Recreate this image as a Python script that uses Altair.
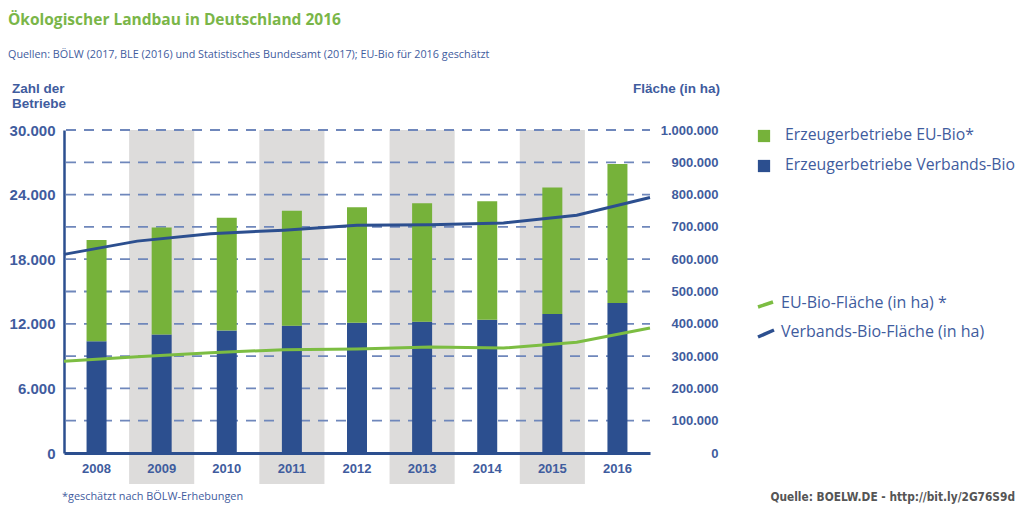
import altair as alt
import pandas as pd

years = [2008, 2009, 2010, 2011, 2012, 2013, 2014, 2015, 2016]
# Erzeugerbetriebe (Anzahl)
verbands_betriebe = [10390, 11010, 11380, 11820, 12100, 12190, 12380, 12900, 13930]
eu_bio_betriebe = [9400, 9930, 10460, 10670, 10730, 11010, 11010, 11770, 12910]
# Flächen (ha)
verbands_flaeche = [615000, 656000, 679000, 690000, 705000, 707000, 712000, 736000, 791000]
eu_bio_flaeche = [284000, 298000, 310000, 320000, 322000, 328000, 325000, 343000, 387000]

left_ticks = [0, 6000, 12000, 18000, 24000, 30000]
right_ticks = [0, 100000, 200000, 300000, 400000, 500000, 600000, 700000, 800000, 900000, 1000000]
grid_values = [3000, 6000, 9000, 12000, 15000, 18000, 21000, 24000, 27000, 30000]
shaded_years = [2009, 2011, 2013, 2015]

title_text = "Ökologischer Landbau in Deutschland 2016"
subtitle_text = "Quellen: BÖLW (2017, BLE (2016) und Statistisches Bundesamt (2017); EU-Bio für 2016 geschätzt"
left_title = ["Zahl der", "Betriebe"]
right_title = "Fläche (in ha)"
legend_bars = ["Erzeugerbetriebe EU-Bio*", "Erzeugerbetriebe Verbands-Bio"]
legend_lines = ["EU-Bio-Fläche (in ha) *", "Verbands-Bio-Fläche (in ha)"]
footnote = "*geschätzt nach BÖLW-Erhebungen"
source = "Quelle: BOELW.DE  - http://bit.ly/2G76S9d"

GREEN = "#76b23a"
BLUE = "#2c4f8f"
GRAY = "#dddcdb"
TEXT = "#3f5c9e"
GRID = "#6f87bb"

W, H = 586, 323
AXFONT = "Liberation Sans"
TXFONT = "Open Sans"

label_expr = "replace(format(datum.value, ','), regexp(',', 'g'), '.')"

bars_df = pd.DataFrame(
    [{"year": y, "series": "Verbands", "ord": 0, "value": v} for y, v in zip(years, verbands_betriebe)]
    + [{"year": y, "series": "EU", "ord": 1, "value": v} for y, v in zip(years, eu_bio_betriebe)]
)
lines_df = pd.DataFrame(
    [{"year": y, "series": "Verbands", "value": v} for y, v in zip(years, verbands_flaeche)]
    + [{"year": y, "series": "EU", "value": v} for y, v in zip(years, eu_bio_flaeche)]
)

xband = alt.Scale(domain=years, paddingInner=0, paddingOuter=0)

shade = alt.Chart(pd.DataFrame({"year": shaded_years})).mark_rect(color=GRAY).encode(
    x=alt.X("year:O", scale=xband, axis=None),
    y=alt.value(0),
    y2=alt.value(H + 31),
)

grid = alt.Chart(pd.DataFrame({"v": grid_values})).mark_rule(
    color=GRID, strokeWidth=1.8, strokeDash=[10, 8]
).encode(
    y=alt.Y("v:Q", scale=alt.Scale(domain=[0, 30000]), axis=None),
    x=alt.value(2),
    x2=alt.value(W),
)

bars = alt.Chart(bars_df).mark_bar(width=20).encode(
    x=alt.X(
        "year:O",
        scale=xband,
        axis=alt.Axis(
            title=None, labelAngle=0, ticks=False, tickSize=0, domain=True,
            domainColor=BLUE, domainWidth=3, labelPadding=9,
            labelFont=AXFONT, labelFontWeight="bold", labelFontSize=13,
            labelColor=TEXT, zindex=1,
        ),
    ),
    y=alt.Y(
        "value:Q",
        stack="zero",
        scale=alt.Scale(domain=[0, 30000], nice=False),
        axis=alt.Axis(
            orient="left", title=None, values=left_ticks, labelExpr=label_expr,
            ticks=False, tickSize=0, grid=False, domain=True, domainColor=BLUE,
            domainWidth=2.5, labelPadding=9, labelFont=AXFONT,
            labelFontWeight="bold", labelFontSize=15, labelColor=TEXT,
        ),
    ),
    color=alt.Color("series:N", scale=alt.Scale(domain=["EU", "Verbands"], range=[GREEN, BLUE]), legend=None),
    order=alt.Order("ord:Q"),
)

lines = alt.Chart(lines_df).mark_line(strokeWidth=3).encode(
    x=alt.X("year:Q", scale=alt.Scale(domain=[2008, 2016], nice=False, zero=False), axis=None),
    y=alt.Y(
        "value:Q",
        scale=alt.Scale(domain=[0, 1000000], nice=False),
        axis=alt.Axis(
            orient="right", title=None, values=right_ticks, labelExpr=label_expr,
            ticks=False, tickSize=0, grid=False, domain=False, labelAlign="right",
            labelPadding=68, labelFont=AXFONT, labelFontWeight="bold",
            labelFontSize=13, labelColor=TEXT,
        ),
    ),
    color=alt.Color("series:N", scale=alt.Scale(domain=["EU", "Verbands"], range=["#7cbd42", BLUE]), legend=None),
    detail="series:N",
)


def txt(text, x, y, size, color=TEXT, font=TXFONT, weight="normal", align="left", baseline="middle"):
    return alt.Chart(pd.DataFrame({"t": [text]})).mark_text(
        font=font, fontSize=size, fontWeight=weight, color=color, align=align, baseline=baseline
    ).encode(text="t:N", x=alt.value(x), y=alt.value(y))


texts = [
    txt(title_text, -56, -105, 15.5, color="#7ab648", weight="bold", baseline="alphabetic"),
    txt(subtitle_text, -56, -72, 10.8, baseline="alphabetic"),
    txt(left_title[0], -52, -37, 13.5, font=AXFONT, weight="bold", baseline="alphabetic"),
    txt(left_title[1], -52, -22, 13.5, font=AXFONT, weight="bold", baseline="alphabetic"),
    txt(right_title, 656, -37, 13.5, font=AXFONT, weight="bold", align="right", baseline="alphabetic"),
    txt(legend_bars[0], 721, 5, 15.8),
    txt(legend_bars[1], 721, 35, 15.8),
    txt(legend_lines[0], 717, 173, 16),
    txt(legend_lines[1], 717, 202, 16),
    txt(footnote, -2, 367, 10.9),
    txt(source, 951, 367, 11.8, color="#555555", font="DejaVu Sans Condensed", weight="bold", align="right"),
]

legend_squares = alt.Chart(pd.DataFrame({"s": ["EU", "Verbands"], "py": [6, 36]})).mark_point(
    shape="square", filled=True, size=150, opacity=1
).encode(
    x=alt.value(700),
    y=alt.Y("py:Q", scale=None),
    color=alt.Color("s:N", scale=alt.Scale(domain=["EU", "Verbands"], range=[GREEN, BLUE]), legend=None),
)

leg_line_eu = alt.Chart(pd.DataFrame({"a": [0]})).mark_rule(color="#7cbd42", strokeWidth=3.5).encode(
    x=alt.value(694), y=alt.value(177), x2=alt.value(709), y2=alt.value(172)
)
leg_line_vb = alt.Chart(pd.DataFrame({"a": [0]})).mark_rule(color=BLUE, strokeWidth=3.5).encode(
    x=alt.value(694), y=alt.value(207), x2=alt.value(710), y2=alt.value(200)
)

chart = alt.layer(
    shade, grid, bars, lines, legend_squares, leg_line_eu, leg_line_vb, *texts
).resolve_scale(
    x="independent", y="independent", color="independent"
).properties(
    width=W, height=H,
    autosize=alt.AutoSizeParams(type="none"),
    padding={"left": 56, "top": 122, "right": 366, "bottom": 53},
    background="white",
).configure_view(stroke=None)

chart.save("out.html", embed_options={"renderer": "svg", "actions": False})
